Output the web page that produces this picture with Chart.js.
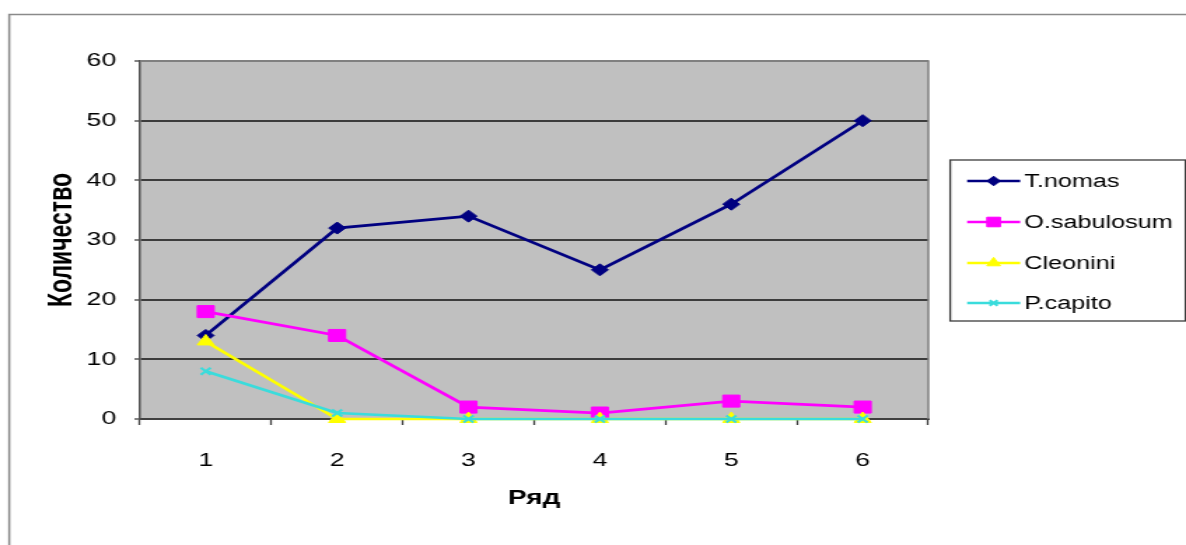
<!DOCTYPE html>
<html>
<head>
<meta charset="utf-8">
<script src="https://cdn.jsdelivr.net/npm/chart.js@4/dist/chart.umd.min.js"></script>
<style>
  html, body { margin: 0; padding: 0; background: #fff; overflow: hidden; }
  /* the chart is laid out on a narrower canvas and widened to the page width */
  #wrap { width: 847px; height: 545px; transform: scaleX(1.40024); transform-origin: 0 0; }
  canvas { display: block; }
</style>
</head>
<body>
<div id="wrap"><canvas id="c" width="847" height="545"></canvas></div>
<script>
// Rows (categories)
const rows = ['1', '2', '3', '4', '5', '6'];

// Counts per row for each taxon
const tNomas     = [14, 32, 34, 25, 36, 50];
const oSabulosum = [18, 14, 2, 1, 3, 2];
const cleonini   = [13, 0, 0, 0, 0, 0];
const pCapito    = [8, 1, 0, 0, 0, 0];

const seriesNames = ['T.nomas', 'O.sabulosum', 'Cleonini', 'P.capito'];

// Value axis range
const yMin = 0;
const yMax = 60;
const yStep = 10;

const FONT = '"Liberation Sans", Arial, sans-serif';

// Page frame, grey plot area and its right/top edges
const plotBackground = {
  id: 'plotBackground',
  beforeDraw(chart) {
    const { ctx, chartArea: a, width, height } = chart;
    ctx.save();
    ctx.fillStyle = '#ffffff';
    ctx.fillRect(0, 0, width, height);
    ctx.strokeStyle = '#8a8a8a';
    ctx.lineWidth = 1.5;
    ctx.beginPath();
    ctx.moveTo(6.6, height + 2);
    ctx.lineTo(6.6, 14.5);
    ctx.lineTo(width + 2, 14.5);
    ctx.stroke();
    ctx.fillStyle = '#c0c0c0';
    ctx.fillRect(a.left, a.top, a.right - a.left, a.bottom - a.top);
    ctx.restore();
  },
  beforeDatasetsDraw(chart) {
    const { ctx, chartArea: a } = chart;
    ctx.save();
    ctx.strokeStyle = '#808080';
    ctx.lineWidth = 1.5;
    ctx.beginPath();
    ctx.moveTo(a.left, a.top);
    ctx.lineTo(a.right, a.top);
    ctx.lineTo(a.right, a.bottom);
    ctx.stroke();
    ctx.restore();
  }
};

// Boxed legend on the right, built from the datasets
const boxedLegend = {
  id: 'boxedLegend',
  afterDraw(chart) {
    const { ctx } = chart;
    const box = { x: 678.6, y: 160, w: 168, h: 161 };
    const rowY = [181, 222, 263, 303];
    ctx.save();
    ctx.strokeStyle = '#3c3c3c';
    ctx.lineWidth = 1.3;
    ctx.strokeRect(box.x, box.y, box.w, box.h);
    chart.data.datasets.forEach((ds, i) => {
      const y = rowY[i];
      ctx.strokeStyle = ds.borderColor;
      ctx.lineWidth = ds.borderWidth;
      ctx.beginPath();
      ctx.moveTo(690.7, y);
      ctx.lineTo(728.6, y);
      ctx.stroke();
      ctx.fillStyle = ds.pointBackgroundColor;
      ctx.strokeStyle = ds.pointBorderColor;
      ctx.lineWidth = ds.pointBorderWidth;
      Chart.helpers.drawPoint(ctx, {
        pointStyle: ds.pointStyle,
        radius: ds.pointRadius * 0.8,
        rotation: 0,
        borderWidth: ds.pointBorderWidth
      }, 709.6, y);
      ctx.fillStyle = '#000000';
      ctx.font = '18px ' + FONT;
      ctx.textAlign = 'left';
      ctx.textBaseline = 'middle';
      ctx.fillText(ds.label, 731.4, y + 1);
    });
    ctx.restore();
  }
};

function series(label, data, color, style, radius, order, pointBorderWidth) {
  return {
    label,
    data,
    borderColor: color,
    backgroundColor: color,
    pointBackgroundColor: color,
    pointBorderColor: color,
    pointStyle: style,
    pointRadius: radius,
    pointHoverRadius: radius,
    pointBorderWidth: pointBorderWidth,
    borderWidth: 2.7,
    tension: 0,
    fill: false,
    clip: false,
    order
  };
}

new Chart(document.getElementById('c'), {
  type: 'line',
  data: {
    labels: rows,
    datasets: [
      series(seriesNames[0], tNomas, '#000080', 'rectRot', 6, 4, 1),
      series(seriesNames[1], oSabulosum, '#ff00ff', 'rect', 8.5, 3, 1),
      series(seriesNames[2], cleonini, '#ffff00', 'triangle', 7, 2, 1),
      series(seriesNames[3], pCapito, '#3adcdc', 'crossRot', 5, 1, 2)
    ]
  },
  options: {
    responsive: false,
    animation: false,
    devicePixelRatio: 1,
    layout: { padding: { left: 0, right: 184, top: 61, bottom: 0 } },
    plugins: {
      legend: { display: false },
      tooltip: { enabled: false }
    },
    scales: {
      x: {
        offset: true,
        grid: {
          offset: true,
          drawOnChartArea: false,
          drawTicks: true,
          tickLength: 6,
          tickColor: '#404040',
          tickWidth: 1.3
        },
        border: { color: '#404040', width: 2 },
        ticks: { padding: 24, color: '#000', font: { family: FONT, size: 19 } },
        title: {
          display: true,
          text: 'Ряд',
          color: '#000',
          font: { family: FONT, size: 20, weight: 'bold' },
          padding: { top: 0, bottom: 35 }
        },
        afterFit(scale) { scale.height = 126; }
      },
      y: {
        min: yMin,
        max: yMax,
        ticks: {
          stepSize: yStep,
          padding: 13,
          color: '#000',
          font: { family: FONT, size: 19 }
        },
        grid: {
          color: (c) => (c.tick && c.tick.value === yMax ? '#808080' : '#3c3c3c'),
          lineWidth: 2,
          drawTicks: true,
          tickLength: 4,
          tickColor: '#404040',
          tickWidth: 1.3
        },
        border: { color: '#505050', width: 1.5 },
        title: {
          display: true,
          text: 'Количество',
          color: '#000',
          font: { family: FONT, size: 23, weight: 'bold' },
          padding: { top: 31, bottom: 0 }
        },
        afterFit(scale) { scale.width = 100; }
      }
    }
  },
  plugins: [plotBackground, boxedLegend]
});
</script>
</body>
</html>
